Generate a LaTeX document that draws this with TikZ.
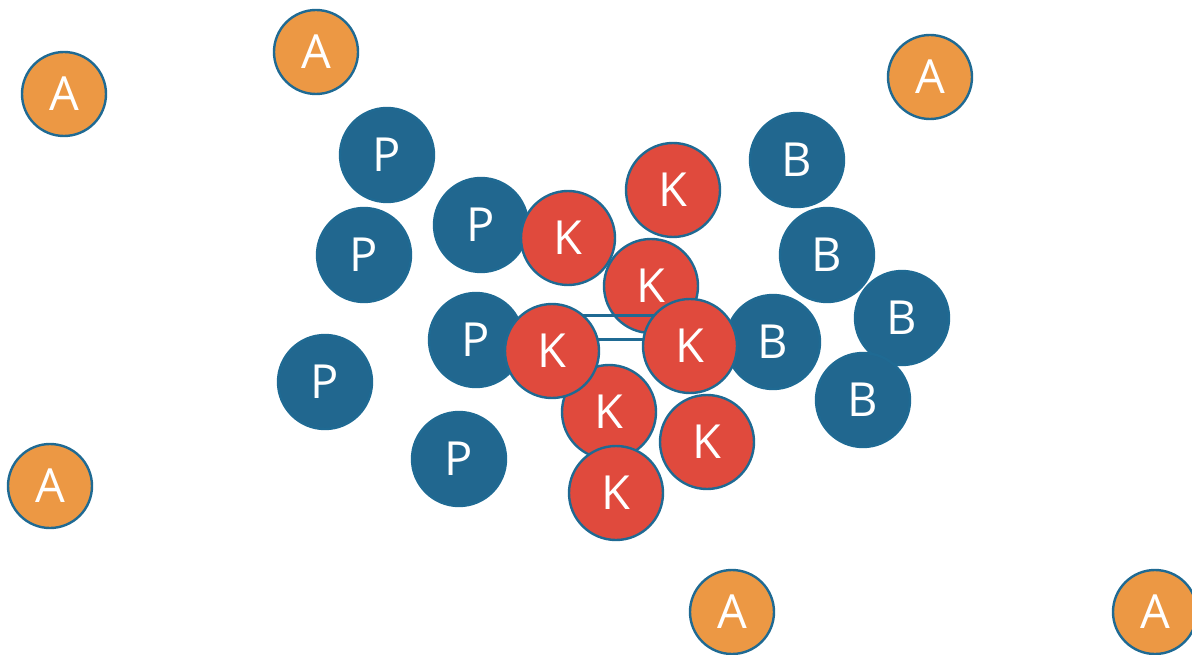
\documentclass[tikz,border=0pt]{standalone}
\usepackage{fontspec}
\setmainfont{Open Sans}
\definecolor{pblue}{HTML}{21678F}
\definecolor{edgeblue}{HTML}{1F6A93}
\definecolor{kred}{HTML}{E04A3D}
\definecolor{aorange}{HTML}{EC9844}
\tikzset{
  ball/.style={circle, draw=edgeblue, line width=2.4pt, inner sep=0pt, text=white,
    font=\fontsize{47}{47}\selectfont},
  pball/.style={ball, fill=pblue, minimum size=94pt},
  kball/.style={ball, fill=kred, minimum size=94pt},
  aball/.style={ball, fill=aorange, minimum size=84pt},
  bond/.style={draw=edgeblue, line width=3pt},
}
\begin{document}
\begin{tikzpicture}[x=1pt,y=-1pt]
\useasboundingbox (0,0) rectangle (1192,655);
\begin{scope}
\clip (0,0) rectangle (1192,655);
% A
\node[aball] (a1) at (64,94) {A};
\node[aball] (a2) at (316,52) {A};
\node[aball] (a3) at (930,77) {A};
\node[aball] (a4) at (50,486) {A};
\node[aball] (a5) at (732,612) {A};
\node[aball] (a6) at (1155,612) {A};
% P
\node[pball] (p1) at (387,155) {P};
\node[pball] (p2) at (481,225) {P};
\node[pball] (p3) at (364,255) {P};
\node[pball] (p4) at (476,340) {P};
\node[pball] (p5) at (325,382) {P};
\node[pball] (p6) at (459,459) {P};
% B
\node[pball] (b1) at (797,160) {B};
\node[pball] (b2) at (827,255) {B};
\node[pball] (b3) at (902,318) {B};
\node[pball] (b4) at (773,342) {B};
\node[pball] (b5) at (863,400) {B};
% K
\node[kball] (k3) at (651,286) {K};
\coordinate (k4u) at (552,315);
\coordinate (k5u) at (690,315);
\coordinate (k4l) at (552,339);
\coordinate (k5l) at (690,339);
\draw[bond] (k4u) -- (k5u);
\draw[bond] (k4l) -- (k5l);
\node[kball] (k2) at (568,238) {K};
\node[kball] (k1) at (673,190) {K};
\node[kball] (k6) at (609,412) {K};
\node[kball] (k8) at (616,493) {K};
\node[kball] (k7) at (707,442) {K};
\node[kball] (k4) at (552,351) {K};
\node[kball] (k5) at (690,346) {K};
\end{scope}
\end{tikzpicture}
\end{document}
